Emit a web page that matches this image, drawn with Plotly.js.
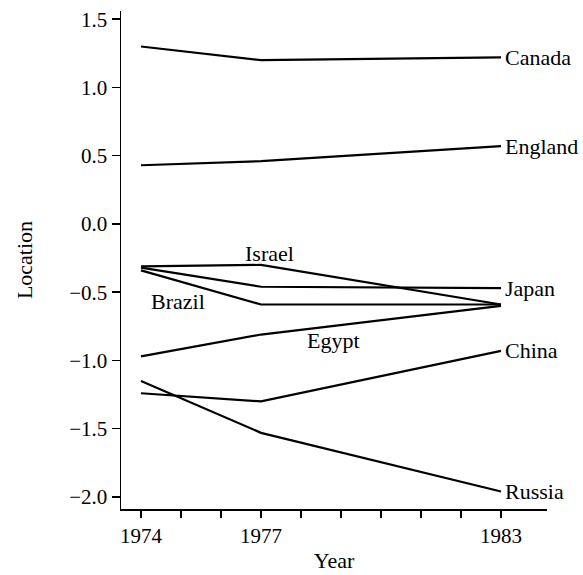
<!DOCTYPE html>
<html>
<head>
<meta charset="utf-8">
<script src="https://cdn.plot.ly/plotly-3.0.1.min.js"></script>
<style>html,body{margin:0;padding:0;background:#fff;}</style>
</head>
<body>
<div id="chart" style="width:583px;height:575px;"></div>
<script>
const years = [1974, 1977, 1983];
const countries = ["Canada", "England", "Israel", "Japan", "Brazil", "Egypt", "China", "Russia"];
const canada  = [1.30, 1.20, 1.22];
const england = [0.43, 0.46, 0.57];
const israel  = [-0.31, -0.30, -0.59];
const japan   = [-0.32, -0.46, -0.47];
const brazil  = [-0.34, -0.59, -0.59];
const egypt   = [-0.97, -0.81, -0.60];
const china   = [-1.24, -1.30, -0.93];
const russia  = [-1.15, -1.53, -1.96];
const tickYears = [1974, 1975, 1976, 1977, 1978, 1979, 1980, 1981, 1982, 1983];
const tickLabels = ["1974", "", "", "1977", "", "", "", "", "", "1983"];

const series = [canada, england, israel, japan, brazil, egypt, china, russia];
const traces = series.map((ys, i) => ({
  x: years, y: ys, type: "scatter", mode: "lines", name: countries[i],
  line: {color: "#000", width: 2.2}, hoverinfo: "skip"
}));

const fam = "Liberation Serif, Times New Roman, serif";
const tickFont = {family: fam, size: 21, color: "#000"};
const labelFont = {family: fam, size: 22, color: "#000"};
const titleFont = {family: fam, size: 22, color: "#000"};

const endLabels = ["Canada", "England", "Japan", "China", "Russia"];
const endSeries = [canada, england, japan, china, russia];
const annotations = endLabels.map((t, i) => ({
  x: 1983, y: endSeries[i][2], text: t, showarrow: false,
  xanchor: "left", yanchor: "middle", xshift: 2, font: labelFont
}));
annotations.push({x: 1977.2, y: -0.22, text: "Israel", showarrow: false, xanchor: "center", yanchor: "middle", font: labelFont});
annotations.push({x: 1974.93, y: -0.57, text: "Brazil", showarrow: false, xanchor: "center", yanchor: "middle", font: labelFont});
annotations.push({x: 1978.8, y: -0.85, text: "Egypt", showarrow: false, xanchor: "center", yanchor: "middle", font: labelFont});

const layout = {
  width: 583, height: 575,
  margin: {l: 121, r: 36, t: 11, b: 66},
  paper_bgcolor: "#fff", plot_bgcolor: "#fff",
  showlegend: false,
  font: tickFont,
  xaxis: {
    range: [1973.5, 1984.15], showgrid: false, zeroline: false,
    showline: true, linecolor: "#000", linewidth: 1.5,
    ticks: "outside", ticklen: 7, tickwidth: 1.5, tickcolor: "#000",
    tickvals: tickYears, ticktext: tickLabels, tickfont: tickFont,
    title: {text: "Year", font: titleFont, standoff: 6}
  },
  yaxis: {
    range: [-2.088, 1.56], showgrid: false, zeroline: false,
    showline: true, linecolor: "#000", linewidth: 1.5,
    ticks: "outside", ticklen: 8, tickwidth: 1.5, tickcolor: "#000",
    dtick: 0.5, tick0: 0, tickformat: ".1f", tickfont: tickFont,
    title: {text: "Location", font: titleFont, standoff: 30}
  },
  annotations: annotations
};
Plotly.newPlot("chart", traces, layout, {staticPlot: true, displayModeBar: false});
</script>
</body>
</html>
